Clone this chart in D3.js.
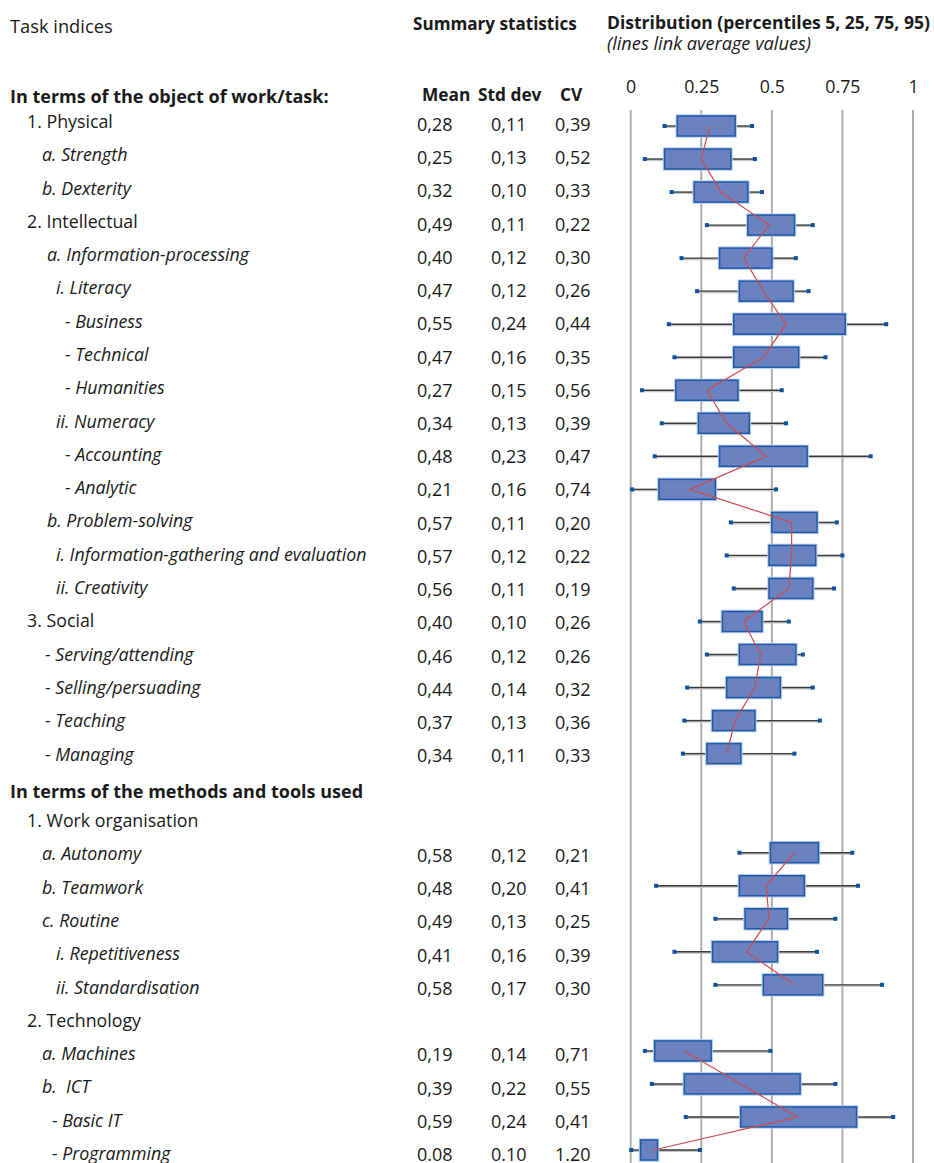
<!DOCTYPE html>
<html>
<head>
<meta charset="utf-8">
<script src="https://cdn.jsdelivr.net/npm/d3@7"></script>
<style>
  body { margin: 0; background: #fff; }
  svg { display: block; }
  text { font-family: "Open Sans", sans-serif; fill: #1a1a1a; }
</style>
</head>
<body>
<svg id="chart" width="934" height="1163"></svg>
<script>
// Task index rows, top to bottom
const labels = [
  "1. Physical", "a. Strength", "b. Dexterity", "2. Intellectual",
  "a. Information-processing", "i. Literacy", "- Business", "- Technical",
  "- Humanities", "ii. Numeracy", "- Accounting", "- Analytic",
  "b. Problem-solving", "i. Information-gathering and evaluation", "ii. Creativity",
  "3. Social", "- Serving/attending", "- Selling/persuading", "- Teaching", "- Managing",
  "In terms of the methods and tools used", "1. Work organisation",
  "a. Autonomy", "b. Teamwork", "c. Routine", "i. Repetitiveness", "ii. Standardisation",
  "2. Technology", "a. Machines", "b.  ICT", "- Basic IT", "- Programming"
];
// n = normal, i = italic, b = bold section heading
const styles = [
  "n","i","i","n","i","i","i","i","i","i","i","i","i","i","i",
  "n","i","i","i","i","b","n","i","i","i","i","i","n","i","i","i","i"
];
const indents = [
  27,42,42,27,47,56,65,65,65,56,65,65,47,56,56,
  27,45,45,45,45,10,27,42,42,42,56,56,27,42,42,52,52
];

// Summary statistics
const means = [0.28,0.25,0.32,0.49,0.40,0.47,0.55,0.47,0.27,0.34,0.48,0.21,0.57,0.57,0.56,
  0.40,0.46,0.44,0.37,0.34,null,null,0.58,0.48,0.49,0.41,0.58,null,0.19,0.39,0.59,0.08];
const stdDevs = [0.11,0.13,0.10,0.11,0.12,0.12,0.24,0.16,0.15,0.13,0.23,0.16,0.11,0.12,0.11,
  0.10,0.12,0.14,0.13,0.11,null,null,0.12,0.20,0.13,0.16,0.17,null,0.14,0.22,0.24,0.10];
const cvs = [0.39,0.52,0.33,0.22,0.30,0.26,0.44,0.35,0.56,0.39,0.47,0.74,0.20,0.22,0.19,
  0.26,0.26,0.32,0.36,0.33,null,null,0.21,0.41,0.25,0.39,0.30,null,0.71,0.55,0.41,1.20];
// rows printed with a decimal point instead of a comma
const pointRows = [31];

// Distribution percentiles
const p5 = [0.12,0.05,0.145,0.27,0.18,0.235,0.135,0.155,0.04,0.11,0.085,0.005,0.355,0.34,0.365,
  0.245,0.27,0.20,0.19,0.185,null,null,0.385,0.09,0.30,0.155,0.30,null,0.05,0.075,0.195,0.002];
const p25 = [0.165,0.12,0.225,0.415,0.315,0.385,0.365,0.365,0.16,0.24,0.315,0.10,0.50,0.49,0.49,
  0.325,0.385,0.34,0.29,0.27,null,null,0.495,0.385,0.405,0.29,0.47,null,0.085,0.19,0.39,0.035];
const p75 = [0.37,0.355,0.415,0.58,0.50,0.575,0.76,0.595,0.38,0.42,0.625,0.30,0.66,0.655,0.645,
  0.465,0.585,0.53,0.44,0.39,null,null,0.665,0.615,0.555,0.52,0.68,null,0.285,0.60,0.80,0.095];
const p95 = [0.43,0.44,0.465,0.645,0.585,0.63,0.905,0.69,0.535,0.55,0.85,0.515,0.73,0.75,0.72,
  0.56,0.61,0.645,0.67,0.58,null,null,0.785,0.805,0.725,0.66,0.89,null,0.495,0.725,0.93,0.245];

const axisTicks = [0, 0.25, 0.5, 0.75, 1];
const axisTickLabels = ["0", "0.25", "0.5", "0.75", "1"];

const rows = labels.map((label, i) => ({
  i, label, style: styles[i], indent: indents[i],
  mean: means[i], sd: stdDevs[i], cv: cvs[i],
  p5: p5[i], p25: p25[i], p75: p75[i], p95: p95[i]
}));

const svg = d3.select("#chart");
const W = 934, H = 1163;

const x = d3.scaleLinear().domain([0, 1]).range([630.7, 913]);
const yBox = d3.scaleLinear().domain([0, 31]).range([126, 1150]);
const yLabel = d3.scaleLinear().domain([0, 31]).range([128, 1160]);
const yNum = d3.scaleLinear().domain([0, 31]).range([131, 1161]);

// ---- headings ----
svg.append("text").attr("x", 10).attr("y", 33)
  .style("font-size", "18.3px").text("Task indices");
svg.append("text").attr("x", 413).attr("y", 30)
  .style("font-size", "17.1px").style("font-weight", "bold").text("Summary statistics");
svg.append("text").attr("x", 607).attr("y", 29)
  .style("font-size", "17.5px").style("font-weight", "bold")
  .text("Distribution (percentiles 5, 25, 75, 95)");
svg.append("text").attr("x", 607).attr("y", 50)
  .style("font-size", "18.2px").style("font-style", "italic")
  .text("(lines link average values)");

svg.append("text").attr("x", 10).attr("y", 103)
  .style("font-size", "18px").style("font-weight", "bold")
  .text("In terms of the object of work/task:");

const colHeads = [["Mean", 422], ["Std dev", 478], ["CV", 560]];
svg.selectAll("text.colhead").data(colHeads).join("text")
  .attr("class", "colhead")
  .attr("x", d => d[1]).attr("y", 101)
  .style("font-size", "17.3px").style("font-weight", "bold")
  .text(d => d[0]);

// ---- gridlines ----
svg.append("g").selectAll("line").data(axisTicks).join("line")
  .attr("x1", d => x(d)).attr("x2", d => x(d))
  .attr("y1", 110).attr("y2", H)
  .attr("stroke", "#adadad").attr("stroke-width", 2);

// ---- axis labels on top ----
const axis = d3.axisTop(x)
  .tickValues(axisTicks)
  .tickFormat((d, k) => axisTickLabels[k])
  .tickSize(0).tickPadding(0);
const gAxis = svg.append("g").attr("transform", "translate(0,93)").call(axis);
gAxis.select(".domain").remove();
gAxis.selectAll("text")
  .attr("dy", 0)
  .style("font-family", "'Open Sans', sans-serif")
  .style("font-size", "17.8px").attr("fill", "#1a1a1a");

// ---- row labels ----
svg.append("g").selectAll("text").data(rows).join("text")
  .attr("x", d => d.indent)
  .attr("y", d => d.style === "b" ? yLabel(d.i) + 4 : yLabel(d.i))
  .style("font-size", d => d.style === "b" ? "18px" : "17.8px")
  .style("font-weight", d => d.style === "b" ? "bold" : "normal")
  .style("font-style", d => d.style === "i" ? "italic" : "normal")
  .attr("xml:space", "preserve")
  .text(d => d.label);

// ---- summary statistics columns ----
const fmt = d3.format(".2f");
const numText = (v, i) => pointRows.includes(i) ? fmt(v) : fmt(v).replace(".", ",");
const statCols = [["mean", 417], ["sd", 491], ["cv", 555]];
statCols.forEach(([key, cx]) => {
  svg.append("g").selectAll("text")
    .data(rows.filter(d => d[key] != null)).join("text")
    .attr("x", cx).attr("y", d => yNum(d.i))
    .style("font-size", "18px")
    .text(d => numText(d[key], d.i));
});

// ---- box plots ----
const dataRows = rows.filter(d => d.mean != null);
const boxH = 20;
const g = svg.append("g");

// whiskers: soft shadow then dark line
const whiskerSegs = dataRows.flatMap(d => [[d.p5, d.p25, d.i], [d.p75, d.p95, d.i]]);
g.selectAll("line.wshadow").data(whiskerSegs).join("line")
  .attr("class", "wshadow")
  .attr("x1", d => x(d[0])).attr("x2", d => x(d[1]))
  .attr("y1", d => yBox(d[2]) + 1).attr("y2", d => yBox(d[2]) + 1)
  .attr("stroke", "#c4c4c4").attr("stroke-width", 2);
g.selectAll("line.whisker").data(whiskerSegs).join("line")
  .attr("class", "whisker")
  .attr("x1", d => x(d[0])).attr("x2", d => x(d[1]))
  .attr("y1", d => yBox(d[2])).attr("y2", d => yBox(d[2]))
  .attr("stroke", "#3c3c3c").attr("stroke-width", 1.4);

// whisker end markers
const ends = dataRows.flatMap(d => [[d.p5, d.i], [d.p95, d.i]]);
g.selectAll("rect.cap").data(ends).join("rect")
  .attr("class", "cap")
  .attr("x", d => x(d[0]) - 2).attr("y", d => yBox(d[1]) - 2)
  .attr("width", 4).attr("height", 4)
  .attr("fill", "#0b52a0");

// boxes with a faint halo
g.selectAll("rect.halo").data(dataRows).join("rect")
  .attr("class", "halo")
  .attr("x", d => x(d.p25)).attr("y", d => yBox(d.i) - boxH / 2)
  .attr("width", d => x(d.p75) - x(d.p25)).attr("height", boxH)
  .attr("fill", "none").attr("stroke", "#b7cbe8").attr("stroke-width", 3.5);
g.selectAll("rect.box").data(dataRows).join("rect")
  .attr("class", "box")
  .attr("x", d => x(d.p25)).attr("y", d => yBox(d.i) - boxH / 2)
  .attr("width", d => x(d.p75) - x(d.p25)).attr("height", boxH)
  .attr("fill", "#6a82bf").attr("stroke", "#1f5aa8").attr("stroke-width", 1.5);

// line linking the mean values
const meanLine = d3.line()
  .defined(d => d.mean != null)
  .x(d => x(d.mean)).y(d => yBox(d.i));
g.append("path").datum(rows)
  .attr("d", meanLine)
  .attr("fill", "none").attr("stroke", "#cf4b4b").attr("stroke-width", 1.2);
</script>
</body>
</html>
